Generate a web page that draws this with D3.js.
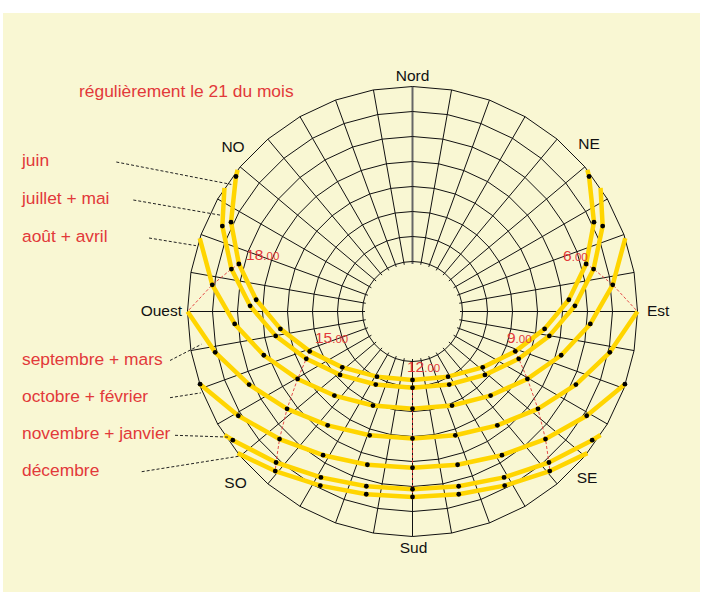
<!DOCTYPE html>
<html>
<head>
<meta charset="utf-8">
<script src="https://cdn.jsdelivr.net/npm/d3@7"></script>
<style>
  html, body { margin: 0; padding: 0; background: #ffffff; }
  svg { display: block; font-family: "Liberation Sans", Arial, Helvetica, sans-serif; }
</style>
</head>
<body>
<svg id="chart" width="702" height="592"></svg>
<script>
// Sun positions on the 21st of the month, in solar time.
// Each entry: [hour, azimuth (degrees from north, clockwise), altitude (degrees)]
const juin = [
  [3.86, 51.0, 0], [4, 52.6, 1.1], [5, 63.8, 9.1], [6, 74.7, 18.0], [7, 85.7, 27.3],
  [8, 97.5, 36.7], [9, 111.2, 45.9], [10, 128.5, 54.1], [11, 151.4, 60.3], [12, 180, 62.6],
  [13, 208.6, 60.3], [14, 231.5, 54.1], [15, 248.8, 45.9], [16, 262.5, 36.7], [17, 274.3, 27.3],
  [18, 285.3, 18.0], [19, 296.2, 9.1], [20, 307.4, 1.1], [20.14, 309.0, 0]
];
const juilletMai = [
  [4.20, 56.7, 0], [5, 65.8, 6.6], [6, 76.8, 15.6], [7, 88.0, 25.0], [8, 100.1, 34.4],
  [9, 114.0, 43.5], [10, 131.2, 51.5], [11, 153.3, 57.3], [12, 180, 59.5], [13, 206.7, 57.3],
  [14, 228.8, 51.5], [15, 246.0, 43.5], [16, 259.9, 34.4], [17, 272.0, 25.0], [18, 283.2, 15.6],
  [19, 294.2, 6.6], [19.80, 303.3, 0]
];
const aoutAvril = [
  [5.0, 71.0, 0], [6, 82.4, 9.2], [7, 94.0, 18.7], [8, 106.4, 28.0], [9, 120.4, 36.7],
  [10, 137.1, 44.1], [11, 157.2, 49.2], [12, 180, 51.1], [13, 202.8, 49.2], [14, 222.9, 44.1],
  [15, 239.6, 36.7], [16, 253.6, 28.0], [17, 266.0, 18.7], [18, 277.6, 9.2], [19.0, 289.0, 0]
];
const septembreMars = [
  [6, 90, 0], [7, 101.7, 9.4], [8, 114.1, 18.4], [9, 127.8, 26.5], [10, 143.3, 33.2],
  [11, 160.9, 37.6], [12, 180, 39.2], [13, 199.1, 37.6], [14, 216.7, 33.2], [15, 232.2, 26.5],
  [16, 245.9, 18.4], [17, 258.3, 9.4], [18, 270, 0]
];
const octobreFevrier = [
  [6.98, 108.7, 0], [7, 108.9, 0.2], [8, 120.9, 8.8], [9, 133.8, 16.3], [10, 148.1, 22.3],
  [11, 163.6, 26.1], [12, 180, 27.5], [13, 196.4, 26.1], [14, 211.9, 22.3], [15, 226.2, 16.3],
  [16, 239.1, 8.8], [17, 251.1, 0.2], [17.02, 251.3, 0]
];
const novembreJanvier = [
  [7.80, 123.3, 0], [8, 125.6, 1.6], [9, 137.9, 8.6], [10, 151.1, 14.2], [11, 165.2, 17.7],
  [12, 180, 18.9], [13, 194.8, 17.7], [14, 208.9, 14.2], [15, 222.1, 8.6], [16, 234.4, 1.6],
  [16.20, 236.7, 0]
];
const decembre = [
  [8.14, 129.0, 0], [9, 139.3, 5.8], [10, 152.1, 11.2], [11, 165.8, 14.6], [12, 180, 15.8],
  [13, 194.2, 14.6], [14, 207.9, 11.2], [15, 220.7, 5.8], [15.86, 231.0, 0]
];

const monthLabels = ["juin", "juillet + mai", "août + avril", "septembre + mars",
                     "octobre + février", "novembre + janvier", "décembre"];
const monthPaths = [juin, juilletMai, aoutAvril, septembreMars, octobreFevrier, novembreJanvier, decembre];

// where each legend leader line meets its path (solar hour along the path)
const leaderHours = [19.83, 19.23, 18.85, 17.22, 16.76, 16, 15.86];

const ringAltitudes = [0, 10, 20, 30, 40, 50, 60, 70];
const gridAzimuths = d3.range(0, 360, 10);

const hourLines = [6, 9, 12, 15, 18];
const hourMain = ["6", "9", "12", "15", "18"];
const hourSuffix = ".00";

const compassNames = ["Nord", "NE", "Est", "SE", "Sud", "SO", "Ouest", "NO"];
const title = "régulièrement le 21 du mois";

// ---------------------------------------------------------------
const W = 702, H = 592;
const cx = 412.5, cy = 311.5, R = 225;
const RED = "#E2393A", GOLD = "#FFD500", BG = "#F9F7D3";
const RED_SIZE = 17.4;

const svg = d3.select("#chart");

svg.append("rect").attr("x", 3).attr("y", 13).attr("width", W - 5).attr("height", H - 13)
  .attr("fill", BG);

const rScale = d3.scaleLinear().domain([90, 0]).range([0, R]);     // altitude -> radius
const aScale = d3.scaleLinear().domain([0, 360]).range([0, 2 * Math.PI]); // azimuth -> angle

function proj(az, alt) {
  const p = d3.pointRadial(aScale(az), rScale(alt));
  return [cx + p[0], cy + p[1]];
}
function pointAtHour(path, h) {
  let i = 0;
  while (i < path.length - 2 && path[i + 1][0] < h) i++;
  const a = path[i], b = path[i + 1];
  const t = (h - a[0]) / (b[0] - a[0]);
  return proj(a[1] + t * (b[1] - a[1]), a[2] + t * (b[2] - a[2]));
}

// ---- polar grid ----
const grid = svg.append("g").attr("transform", `translate(${cx},${cy})`);

grid.selectAll("line.spoke").data(gridAzimuths).join("line")
  .attr("class", "spoke")
  .attr("x1", d => d3.pointRadial(aScale(d), rScale(0))[0])
  .attr("y1", d => d3.pointRadial(aScale(d), rScale(0))[1])
  .attr("x2", d => d3.pointRadial(aScale(d), rScale(71))[0])
  .attr("y2", d => d3.pointRadial(aScale(d), rScale(71))[1])
  .attr("stroke", d => d === 0 ? "#666" : "#111")
  .attr("stroke-width", d => d === 0 ? 2 : 1);

const ringLine = alt => d3.lineRadial()
  .angle(d => aScale(d))
  .radius(rScale(alt))
  .curve(d3.curveLinearClosed)(gridAzimuths);

grid.selectAll("path.ring").data(ringAltitudes).join("path")
  .attr("class", "ring")
  .attr("d", d => ringLine(d))
  .attr("fill", "none")
  .attr("stroke", "#111")
  .attr("stroke-width", 1);

// ---- hour lines (dashed red) ----
const lineGen = d3.line();
hourLines.forEach(h => {
  const pts = monthPaths.map(p => p.find(d => d[0] === h)).filter(Boolean).map(d => proj(d[1], d[2]));
  svg.append("path")
    .attr("d", lineGen(pts))
    .attr("fill", "none")
    .attr("stroke", RED)
    .attr("stroke-width", 0.9)
    .attr("stroke-dasharray", "3,2");
});

// ---- sun paths ----
svg.append("g").selectAll("path").data(monthPaths).join("path")
  .attr("d", p => lineGen(p.map(d => proj(d[1], d[2]))))
  .attr("fill", "none")
  .attr("stroke", GOLD)
  .attr("stroke-width", 4.5)
  .attr("stroke-linejoin", "round");

// hourly dots
const dots = monthPaths.flatMap(p => p.filter(d => Number.isInteger(d[0]) && d[2] > 0));
svg.append("g").selectAll("circle").data(dots).join("circle")
  .attr("cx", d => proj(d[1], d[2])[0])
  .attr("cy", d => proj(d[1], d[2])[1])
  .attr("r", 2.4)
  .attr("fill", "#000");

// ---- hour labels, placed beside the June position of that hour ----
const hourLabelOffsets = { 6: [-23, -3], 9: [-8.3, -8.8], 12: [-5.5, -8.4], 15: [5.3, -8.3], 18: [7.2, -3.9] };
hourLines.forEach((h, i) => {
  const d = juin.find(e => e[0] === h);
  const p = proj(d[1], d[2]);
  const o = hourLabelOffsets[h];
  const t = svg.append("text")
    .attr("x", p[0] + o[0]).attr("y", p[1] + o[1])
    .attr("fill", RED);
  t.append("tspan").attr("font-size", 15.5).text(hourMain[i]);
  t.append("tspan").attr("font-size", 11.5).text(hourSuffix);
});

// ---- compass labels ----
const compassLayout = {
  "Nord": [0, -230.5, "middle"], "NE": [176.5, -162.2, "middle"], "Est": [234.5, 4.8, "start"],
  "SE": [174.5, 171.8, "middle"], "Sud": [1, 241.5, "middle"], "SO": [-177, 176.8, "middle"],
  "Ouest": [-230.5, 4.8, "end"], "NO": [-179.5, -159.2, "middle"]
};
compassNames.forEach(n => {
  const l = compassLayout[n];
  svg.append("text")
    .attr("x", cx + l[0]).attr("y", cy + l[1])
    .attr("text-anchor", l[2])
    .attr("font-size", 15.5)
    .attr("fill", "#111")
    .text(n);
});

// ---- title ----
svg.append("text").attr("x", 79).attr("y", 97).attr("font-size", RED_SIZE).attr("fill", RED).text(title);

// ---- legend ----
const legendBaselines = [166, 204, 242, 364.5, 401.7, 439.3, 475.7];
const leaderStartX = [116.3, 133.3, 149, 170, 170, 175, 141.7];
const leaderEndShift = [[-3, 0], [-1, 0], [-5, 0], [-7, 0], [-8, 0], [-3, -3], [2, 3]];

monthLabels.forEach((lab, i) => {
  const y = legendBaselines[i];
  svg.append("text").attr("x", 22).attr("y", y).attr("font-size", RED_SIZE).attr("fill", RED).text(lab);
  const end = pointAtHour(monthPaths[i], leaderHours[i]);
  svg.append("line")
    .attr("x1", leaderStartX[i]).attr("y1", y - 4)
    .attr("x2", end[0] + leaderEndShift[i][0]).attr("y2", end[1] + leaderEndShift[i][1])
    .attr("stroke", "#222")
    .attr("stroke-width", 1)
    .attr("stroke-dasharray", "3,2");
});
</script>
</body>
</html>
